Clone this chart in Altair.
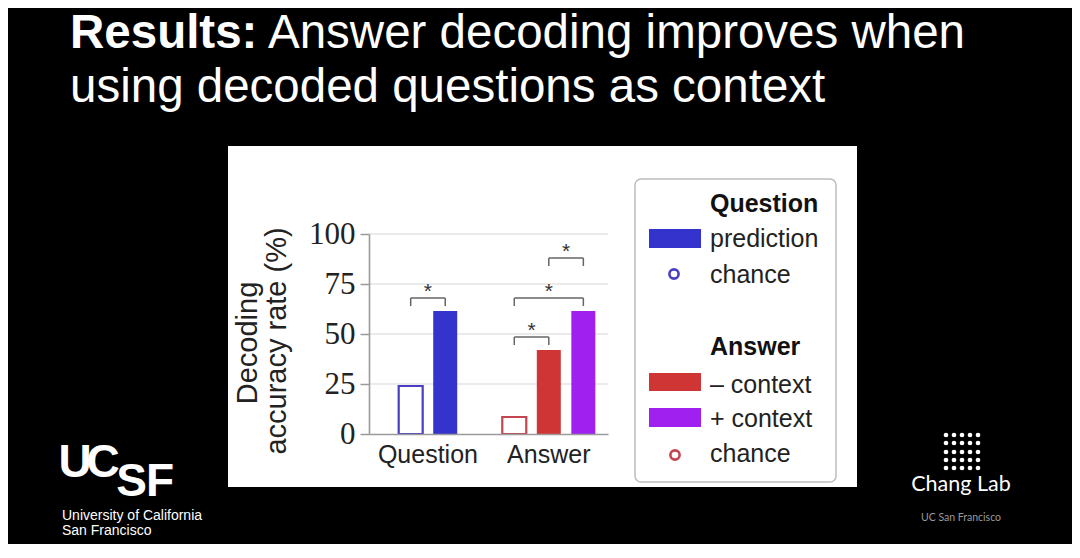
import altair as alt
import pandas as pd

# ---------------- data ----------------
bar_ids = ["Q-chance", "Q-pred", "A-chance", "A-minus", "A-plus"]
bar_groups = ["Question", "Question", "Answer", "Answer", "Answer"]
bar_kind = ["chance", "prediction", "chance", "context", "context"]
accuracy = [24, 61.5, 8.5, 42, 61.5]
slot_domain = ["Q-chance", "Q-pred", "gap", "A-chance", "A-minus", "A-plus"]
bar_colors = ["#4a3ec2", "#3434cc", "#c4444f", "#d03535", "#a020f0"]

y_ticks = [0, 25, 50, 75, 100]
grid_levels = [25, 50, 75, 100]

group_labels = ["Question", "Answer"]
group_anchor = ["Q-chance", "A-minus"]
group_between = [True, False]

sig_from = ["Q-chance", "A-chance", "A-chance", "A-minus"]
sig_to = ["Q-pred", "A-minus", "A-plus", "A-plus"]
sig_level = [68, 48.5, 68, 88]
star_anchor = ["Q-chance", "A-chance", "A-minus", "A-minus"]
star_between = [True, True, False, True]

# ---------------- layout ----------------
OX, OY = 369, 234          # page position of plot origin
PW, PH = 239, 200          # plot area
CW, CH = 1064, 536         # canvas size
SANS = "Liberation Sans"
SERIF = "Liberation Serif"
INK = "#222222"

PI, PO, AL = 0.305, 0.6133, 0.701
STEP = PW / (len(slot_domain) - PI + 2 * PO)
HALF = STEP / 2

x_scale = alt.Scale(domain=slot_domain, paddingInner=PI, paddingOuter=PO, align=AL, round=False)
y_scale = alt.Scale(domain=[0, 100], nice=False, zero=True)
x_axis = alt.Axis(labels=False, ticks=False, title=None, grid=False, domainColor="#9a9a9a",
                  domainWidth=1.6, zindex=2)
y_axis = alt.Axis(values=y_ticks, title=None, grid=False, domainColor="#9a9a9a", domainWidth=1.6,
                  tickColor="#9a9a9a", tickWidth=1.5, tickSize=9, labelFont=SERIF, labelFontSize=31,
                  labelColor=INK, labelPadding=5, zindex=2)
color_scale = alt.Scale(domain=bar_ids, range=bar_colors)

def X(field, **kw):
    return alt.X(field, scale=x_scale, axis=x_axis, **kw)

def Y(field):
    return alt.Y(field, scale=y_scale, axis=y_axis)

def px(v):
    return alt.value(v - OX)

def py(v):
    return alt.value(v - OY)

one = pd.DataFrame({"k": [0]})

def text(txt, x, y, size, color=INK, weight="normal", font=SANS, align="left", angle=0):
    return alt.Chart(one).mark_text(text=txt, font=font, fontSize=size, fontWeight=weight,
                                    color=color, align=align, baseline="alphabetic",
                                    angle=angle).encode(x=px(x), y=py(y))

def rect(x1, y1, x2, y2, **kw):
    return alt.Chart(one).mark_rect(**kw).encode(x=px(x1), x2=px(x2), y=py(y1), y2=py(y2))

def ring(x, y, color):
    return alt.Chart(one).mark_point(shape="circle", size=85, filled=False, strokeWidth=2.6,
                                     opacity=1, color=color).encode(x=px(x), y=py(y))

bars = pd.DataFrame({"id": bar_ids, "group": bar_groups, "kind": bar_kind, "acc": accuracy})
sig = pd.DataFrame({"a": sig_from, "b": sig_to, "level": sig_level,
                    "star": star_anchor, "between": star_between})
grid = pd.DataFrame({"g": grid_levels})
glab = pd.DataFrame({"label": group_labels, "anchor": group_anchor, "between": group_between})

# ---------------- layers ----------------
panel = rect(228, 146, 857, 487, color="white")

grid_rules = alt.Chart(grid).mark_rule(color="#e4e4e4", strokeWidth=1.3).encode(
    x=alt.value(0), x2=alt.value(PW), y=Y("g:Q"))

filled = alt.Chart(bars).transform_filter("datum.kind != 'chance'").mark_bar().encode(
    x=X("id:N"), y=Y("acc:Q"), color=alt.Color("id:N", scale=color_scale, legend=None))
hollow = alt.Chart(bars).transform_filter("datum.kind == 'chance'").mark_bar(
    fill="white", strokeWidth=2.2).encode(
    x=X("id:N"), y=Y("acc:Q"), stroke=alt.Stroke("id:N", scale=color_scale, legend=None))

sig_base = alt.Chart(sig).transform_calculate(lo="datum.level - 4")
br_h = sig_base.mark_rule(color="#666666", strokeWidth=1.5).encode(
    x=X("a:N"), x2="b:N", y=Y("level:Q"))
br_l = sig_base.mark_rule(color="#666666", strokeWidth=1.5).encode(
    x=X("a:N"), y=Y("level:Q"), y2="lo:Q")
br_r = sig_base.mark_rule(color="#666666", strokeWidth=1.5).encode(
    x=X("b:N"), y=Y("level:Q"), y2="lo:Q")
star_mid = sig_base.transform_filter("datum.between").mark_text(
    text="*", font=SANS, fontSize=21, color="#333333", baseline="alphabetic", dx=HALF).encode(
    x=X("star:N"), y=Y("level:Q"))
star_on = sig_base.transform_filter("!datum.between").mark_text(
    text="*", font=SANS, fontSize=21, color="#333333", baseline="alphabetic").encode(
    x=X("star:N"), y=Y("level:Q"))

glab_base = alt.Chart(glab)
glab_mid = glab_base.transform_filter("datum.between").mark_text(
    font=SANS, fontSize=25, color=INK, baseline="alphabetic", dx=HALF).encode(
    x=X("anchor:N"), y=py(463), text="label:N")
glab_on = glab_base.transform_filter("!datum.between").mark_text(
    font=SANS, fontSize=25, color=INK, baseline="alphabetic").encode(
    x=X("anchor:N"), y=py(463), text="label:N")

ytitle1 = text("Decoding", 257, 343, 29, align="center", angle=270)
ytitle2 = text("accuracy rate (%)", 286, 341, 29, align="center", angle=270)

# legend box
leg_box = rect(635, 179, 836, 482, fill="white", stroke="#bdbdbd", strokeWidth=1.5, cornerRadius=6)
leg = [
    leg_box,
    text("Question", 710, 212, 25, weight="bold", color="#111111"),
    rect(649, 229, 701, 248, color=bar_colors[1]),
    text("prediction", 710, 247, 25),
    ring(674, 274, bar_colors[0]),
    text("chance", 710, 283, 25),
    text("Answer", 710, 355, 25, weight="bold", color="#111111"),
    rect(649, 373, 701, 391, color=bar_colors[3]),
    text("\u2013 context", 710, 393, 25),
    rect(649, 408, 701, 427, color=bar_colors[4]),
    text("+ context", 710, 427, 25),
    ring(675, 455, bar_colors[2]),
    text("chance", 710, 462, 25),
]

# slide title
title = [
    text("Results:", 70, 48, 47.5, color="white", weight="bold"),
    text("Answer decoding improves when", 268, 48, 47.5, color="white"),
    text("using decoded questions as context", 70, 102, 47.5, color="white"),
]

# logos
logos = [
    text("U", 75, 477, 46, color="white", weight="bold", align="center"),
    text("C", 103, 477, 46, color="white", weight="bold", align="center"),
    text("S", 131.5, 496, 46, color="white", weight="bold", align="center"),
    text("F", 160, 496, 46, color="white", weight="bold", align="center"),
    text("University of California", 62, 520, 14, color="white"),
    text("San Francisco", 62, 535, 14, color="white"),
    text("Chang Lab", 961, 491, 21.5, color="white", font="Lato", align="center"),
    text("UC San Francisco", 961, 521, 10.5, color="#9a9a9a", align="center", font="Lato"),
]

dot_cols = [946, 954, 962, 970, 978]
dot_rows = [435, 443, 452, 460, 468]
dots_df = pd.DataFrame([(c - OX, r - OY) for r in dot_rows for c in dot_cols], columns=["dx", "dy"])
dots = alt.Chart(dots_df).mark_circle(size=22, color="white", opacity=1).encode(
    x=alt.X("dx:Q", scale=None, axis=None), y=alt.Y("dy:Q", scale=None, axis=None))

main = alt.layer(panel, grid_rules, hollow, filled, br_h, br_l, br_r, star_mid, star_on,
                 glab_mid, glab_on, ytitle1, ytitle2, *leg, *title, *logos)

chart = alt.layer(main, dots).resolve_scale(x="independent", y="independent").properties(
    width=PW, height=PH,
    autosize=alt.AutoSizeParams(type="none"),
    padding={"left": OX - 8, "top": OY - 8, "right": CW - (OX - 8) - PW, "bottom": CH - (OY - 8) - PH},
    background="black",
).configure_view(stroke=None)

chart.save("out.html", embed_options={"renderer": "svg", "actions": False})
